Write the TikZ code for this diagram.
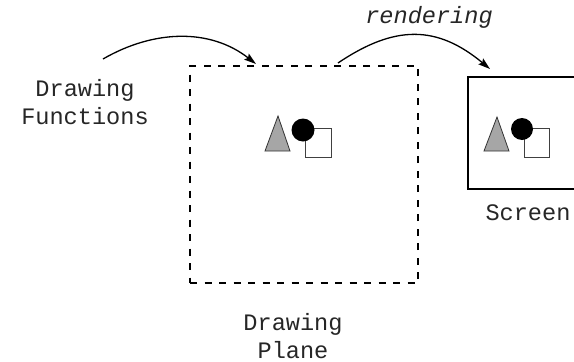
\documentclass[tikz,border=0pt]{standalone}
\usepackage{fontspec}
\setmonofont{Liberation Mono}
\usetikzlibrary{arrows.meta}
\begin{document}
\begin{tikzpicture}[x=1pt,y=-1pt,
  lbl/.style={font=\ttfamily\fontsize{23.6}{28}\selectfont, align=center, inner sep=0pt, text=black!85},
  arr/.style={line width=1.3pt, -{Stealth[length=12pt,width=7.5pt,inset=2pt]}},
  tri/.style={draw=black!80, line width=0.8pt, fill=black!35},
  dot/.style={fill=black},
  sq/.style={draw=black!75, line width=1pt, fill=white}]
\useasboundingbox (0,0) rectangle (574,362);
\clip (0,0) rectangle (574,362);
% drawing plane
\node[draw, line width=1.3pt, dash pattern=on 7pt off 7.5pt, inner sep=0pt,
      minimum width=228pt, minimum height=217pt] (plane) at (304,174.5) {};
% screen
\node[draw, line width=1.3pt, inner sep=0pt,
      minimum width=132pt, minimum height=112pt] (screen) at (534,133) {};
% labels
\node[lbl] (fn) at (85,102) {Drawing\\Functions};
\node[lbl] (pl) at (293,336) {Drawing\\Plane};
\node[lbl] (scr) at (528,213) {Screen};
\node[lbl, font=\ttfamily\itshape\fontsize{23.6}{28}\selectfont] (rend) at (429,17) {rendering};
% shapes in the plane
\coordinate (t1a) at (278,116); \coordinate (t1b) at (265,151); \coordinate (t1c) at (290,151);
\draw[tri] (t1a) -- (t1b) -- (t1c) -- cycle;
\draw[sq] (305,128) rectangle (331,157);
\fill[dot] (303,130) circle (11.5);
% shapes in the screen
\coordinate (t2a) at (497,117); \coordinate (t2b) at (484,151); \coordinate (t2c) at (509,151);
\draw[tri] (t2a) -- (t2b) -- (t2c) -- cycle;
\draw[sq] (524,128) rectangle (549,157);
\fill[dot] (522,129) circle (11);
% arrows
\coordinate (a1s) at (103,59);
\coordinate (a1e) at (256,64);
\coordinate (a2s) at (338,63);
\coordinate (a2e) at (490,69);
\draw[arr] (a1s) .. controls (153.7,29.7) and (209.9,28) .. (a1e);
\draw[arr] (a2s) .. controls (394.8,24.7) and (436.8,24.9) .. (a2e);
\end{tikzpicture}
\end{document}
